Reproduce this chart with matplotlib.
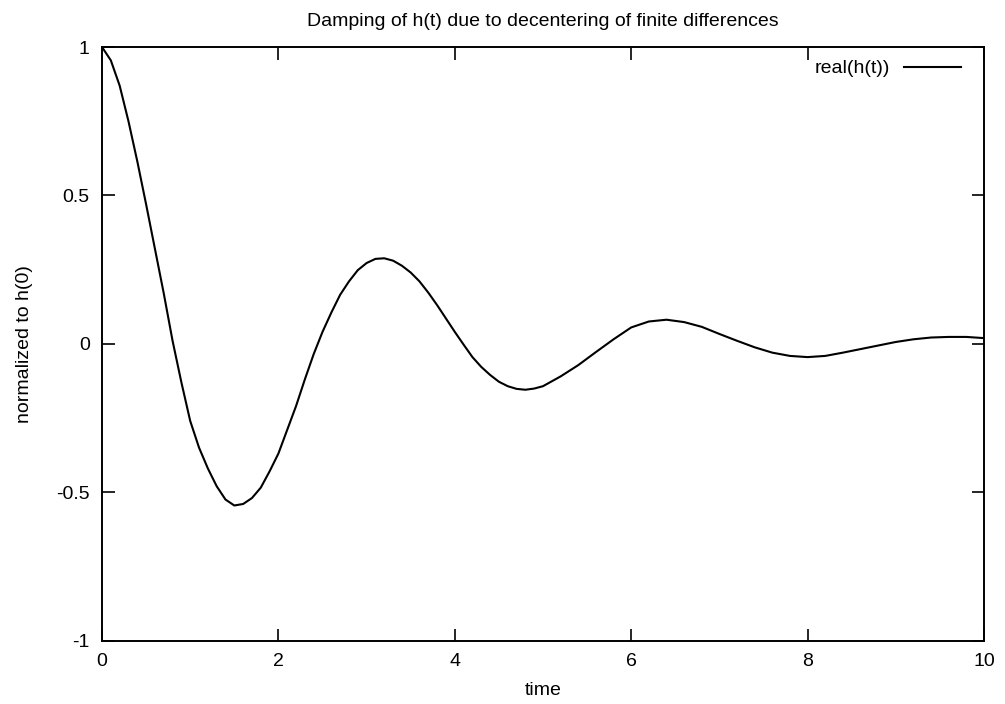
import matplotlib
matplotlib.use("Agg")
from matplotlib import pyplot as plt

# values
time = [0.0, 0.1, 0.2, 0.3, 0.4, 0.5, 0.6, 0.7, 0.8, 0.9,
        1.0, 1.1, 1.2, 1.3, 1.4, 1.5, 1.6, 1.7, 1.8, 1.9,
        2.0, 2.1, 2.2, 2.3, 2.4, 2.5, 2.6, 2.7, 2.8, 2.9,
        3.0, 3.1, 3.2, 3.3, 3.4, 3.5, 3.6, 3.7, 3.8, 3.9,
        4.0, 4.1, 4.2, 4.3, 4.4, 4.5, 4.6, 4.7, 4.8, 4.9,
        5.0, 5.2, 5.4, 5.6, 5.8,
        6.0, 6.2, 6.4, 6.6, 6.8, 7.0, 7.2, 7.4, 7.6, 7.8,
        8.0, 8.2, 8.4, 8.6, 8.8, 9.0, 9.2, 9.4, 9.6, 9.8, 10.0]
real_h = [1.0, 0.955, 0.87, 0.75, 0.615, 0.47, 0.32, 0.17, 0.01, -0.13,
          -0.26, -0.35, -0.42, -0.48, -0.525, -0.545, -0.54, -0.52, -0.485, -0.43,
          -0.37, -0.29, -0.21, -0.12, -0.035, 0.04, 0.105, 0.165, 0.21, 0.248,
          0.272, 0.286, 0.288, 0.28, 0.263, 0.24, 0.21, 0.172, 0.13, 0.085,
          0.04, -0.003, -0.045, -0.078, -0.105, -0.128, -0.143, -0.152, -0.155, -0.151,
          -0.143, -0.11, -0.072, -0.028, 0.015,
          0.055, 0.075, 0.081, 0.073, 0.057, 0.033, 0.01, -0.012, -0.03, -0.041,
          -0.045, -0.041, -0.03, -0.018, -0.006, 0.006, 0.015, 0.021, 0.023, 0.023, 0.019]

xticks = [0, 2, 4, 6, 8, 10]
yticks = [-1, -0.5, 0, 0.5, 1]
ytick_labels = ['-1', '-0.5', '0', '0.5', '1']

plt.rcParams['font.family'] = ['Liberation Sans', 'DejaVu Sans']
plt.rcParams['font.size'] = 14

fig = plt.figure(figsize=(10.05, 7.04), dpi=100)
ax = fig.add_axes([102 / 1005, 63.5 / 704, 882 / 1005, 593.5 / 704])

ax.plot(time, real_h, color='black', linewidth=1.5, label='real(h(t))')

ax.set_xlim(0, 10)
ax.set_ylim(-1, 1)
ax.set_xticks(xticks)
ax.set_xticklabels([str(t) for t in xticks])
ax.set_yticks(yticks)
ax.set_yticklabels(ytick_labels)
ax.tick_params(direction='in', length=9, width=1.2, top=True, right=True)
ax.tick_params(axis='x', pad=9)
ax.tick_params(axis='y', pad=8.8)
for s in ax.spines.values():
    s.set_linewidth(1.4)

ax.set_title('Damping of h(t) due to decentering of finite differences',
             fontsize=14, pad=15)
ax.set_xlabel('time', labelpad=8.8)
ax.set_ylabel('normalized to h(0)', labelpad=17)

leg = ax.legend(loc='center right', bbox_to_anchor=(0.983, 0.9636), frameon=False,
                markerfirst=False, handlelength=2.94, borderaxespad=0,
                handletextpad=0.72)

fig.savefig('out.png', dpi=100)
